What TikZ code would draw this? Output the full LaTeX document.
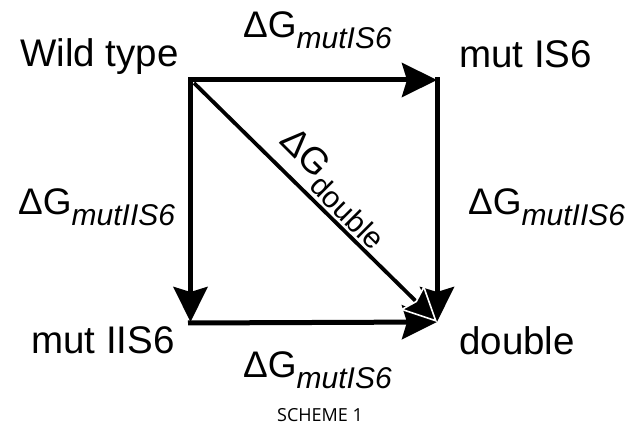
\documentclass[tikz,border=0pt]{standalone}
\usepackage{fontspec}
\setmainfont{Liberation Sans}
\newfontfamily\captionfont{Open Sans}
\usetikzlibrary{arrows.meta}

% Delta-G symbol with a lowered subscript
\newcommand{\dGsub}[2]{{\fontsize{37pt}{40pt}\selectfont ΔG}\raisebox{-11pt}{\fontsize{30pt}{34pt}\selectfont #1#2}}

\tikzset{
  state/.style={inner sep=0pt, font=\fontsize{38.5pt}{42pt}\selectfont},
  energy/.style={inner sep=0pt},
  bigtip/.style={-{Stealth[length=35pt,width=34pt,inset=5pt]}},
  edge/.style={bigtip, line width=5pt, line cap=butt, line join=miter},
  diag/.style={-{Stealth[length=35pt,width=34pt,inset=5pt,color=white,fill=black,line width=1.6pt]}, line width=3.8pt},
}

\begin{document}
\begin{tikzpicture}[x=1pt,y=-1pt]
  \useasboundingbox (0,0) rectangle (638,427);

  % corners of the thermodynamic cycle
  \coordinate (wt) at (190.5,80);
  \coordinate (m1) at (437,80);
  \coordinate (m2) at (190.5,322);
  \coordinate (db) at (437,322);
  \coordinate (m1top) at (437,77.5);
  \coordinate (m2left) at (188,323);
  \coordinate (wtdiag) at (194,83);

  % state names
  \node[state, anchor=base west] (nwt) at (20,67) {Wild type};
  \node[state, anchor=base west] (nm1) at (459,68) {mut IS6};
  \node[state, anchor=base west] (nm2) at (31,354) {mut IIS6};
  \node[state, anchor=base west] (ndb) at (459,355) {double};

  % free-energy labels
  \node[energy, anchor=base west] (ltop) at (243,38) {\dGsub{\itshape}{mutIS6}};
  \node[energy, anchor=base west] (lleft) at (18,215) {\dGsub{\itshape}{mutIIS6}};
  \node[energy, anchor=base west] (lright) at (468,215) {\dGsub{\itshape}{mutIIS6}};
  \node[energy, anchor=base west] (lbot) at (243,378) {\dGsub{\itshape}{mutIS6}};
  \node[energy, rotate=-45] (ldiag) at (334,188) {\dGsub{}{double}};

  % cycle edges
  \draw[edge] (wt) ++(-2.5,0) coordinate (wtl) (wtl) -- (m1);
  \draw[edge] (m1top) -- (db);
  \draw[edge] (wt) -- (m2);
  \draw[edge] (m2left) -- (db);
  \draw[diag] (wtdiag) -- (db);

  % caption
  \node[inner sep=0pt, anchor=base, font=\captionfont\fontsize{18pt}{20pt}\selectfont] (cap) at (320,422) {SCHEME 1};
\end{tikzpicture}
\end{document}
